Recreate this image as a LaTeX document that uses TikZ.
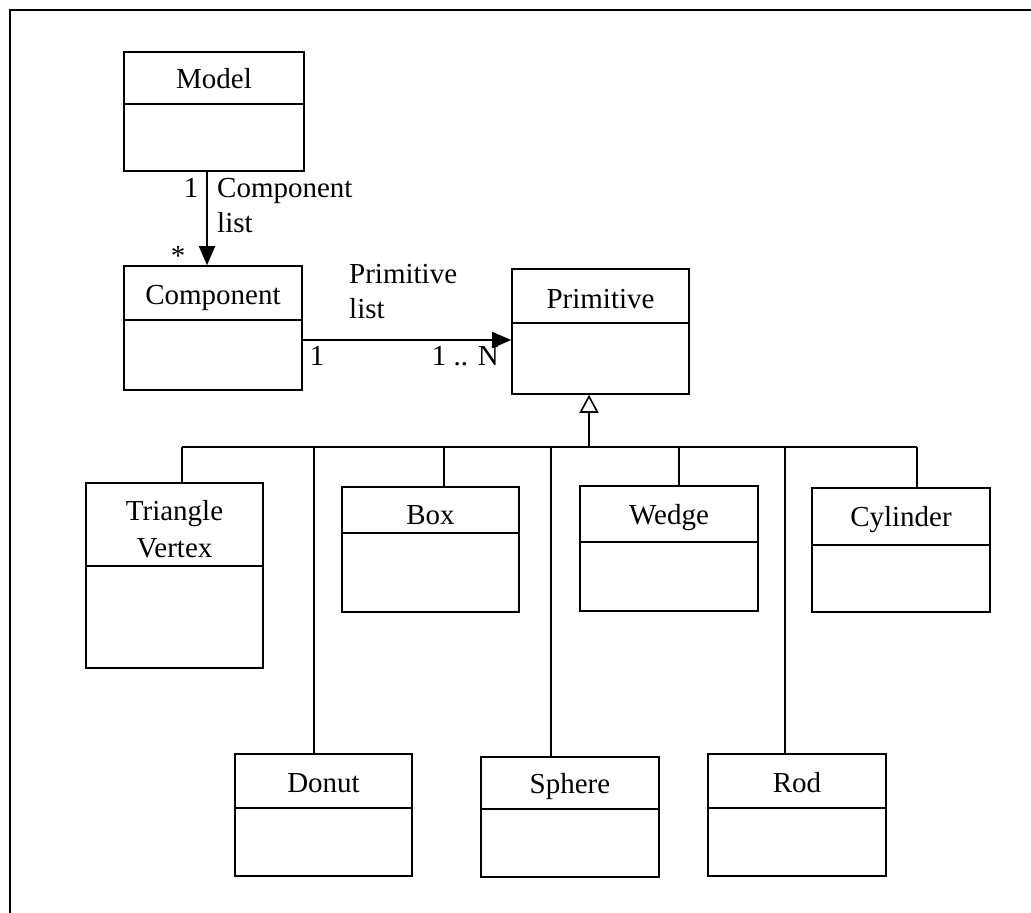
\documentclass[tikz,border=0pt]{standalone}
\usepackage{fontspec}
\setmainfont{Liberation Serif}
\usetikzlibrary{arrows.meta,fit}
\tikzset{
  classframe/.style={draw, rectangle, line width=1.6pt, inner sep=0pt},
  divider/.style={line width=1.6pt},
  classtitle/.style={inner sep=0pt, font=\fontsize{29}{37}\selectfont, align=center},
  lbl/.style={inner sep=0pt, font=\fontsize{29}{35}\selectfont, align=left},
  assoc/.style={line width=1.6pt, -{Triangle[length=19pt,width=16pt]}},
  gen/.style={line width=1.6pt, -{Triangle[open,length=18pt,width=19pt,line width=1.6pt]}},
  link/.style={line width=1.6pt},
  frameline/.style={line width=1.8pt},
}
% class box: name, left, top, right, bottom, divider, title, baseline of the last title line
\newcommand{\umlclass}[8]{%
  \coordinate (#1-nw) at (#2,#3);
  \coordinate (#1-se) at (#4,#5);
  \node[classframe, fit={(#1-nw) (#1-se)}] (#1) {};
  \draw[divider] (#1.west |- 0,#6) -- (#1.east |- 0,#6);
  \node[classtitle, anchor=base] (#1-title) at ({(#2+#4)/2},#8) {#7};
}
\begin{document}
\begin{tikzpicture}[x=1pt,y=-1pt]
\useasboundingbox (0,0) rectangle (1031,913);
\fill[white] (0,0) rectangle (1031,913);

% outer frame
\begin{scope}
  \clip (0,0) rectangle (1031,913);
  \draw[frameline] (10,940) -- (10,10) -- (1060,10);
\end{scope}

% classes
\umlclass{model}{124}{52}{304}{171}{104}{Model}{88}
\umlclass{component}{124}{266}{302}{390}{320}{Component}{304}
\umlclass{primitive}{512}{269}{689}{394}{323}{Primitive}{308}
\umlclass{trivertex}{86}{483}{263}{668}{566}{Triangle\\Vertex}{557}
\umlclass{box}{342}{487}{519}{612}{533}{Box}{524}
\umlclass{wedge}{580}{486}{758}{611}{542}{Wedge}{524}
\umlclass{cylinder}{812}{488}{990}{612}{545}{Cylinder}{526}
\umlclass{donut}{235}{754}{412}{876}{808}{Donut}{792}
\umlclass{sphere}{481}{757}{659}{877}{809}{Sphere}{793}
\umlclass{rod}{708}{754}{886}{876}{808}{Rod}{792}

% Model -> Component association
\coordinate (mc) at (207,0);
\draw[assoc] (model.south -| mc) -- (component.north -| mc);
\node[lbl, anchor=base] (mc-one) at (191,197) {1};
\node[lbl, anchor=base west] (mc-name) at (217,232) {Component\\list};
\node[lbl, anchor=base] (mc-many) at (178,265) {*};

% Component -> Primitive association
\coordinate (cp) at (0,340);
\draw[assoc] (component.east |- cp) -- (primitive.west |- cp);
\node[lbl, anchor=base west] (cp-name) at (349,318) {Primitive\\list};
\node[lbl, anchor=base] (cp-one) at (317,365) {1};
\node[lbl, anchor=base east] (cp-many) at (499,365) {1 .. N};

% generalisation tree
\coordinate (bus-up) at (589,447);
\draw[gen] (bus-up) -- (primitive.south -| bus-up);
\foreach \n/\x in {trivertex/182, donut/314, box/444, sphere/551, wedge/679, rod/785, cylinder/917}{
  \coordinate (bus-\n) at (\x,447);
  \draw[link] (bus-\n) -- (\n.north -| bus-\n);
}
\draw[link] (bus-trivertex) -- (bus-cylinder);
\end{tikzpicture}
\end{document}
